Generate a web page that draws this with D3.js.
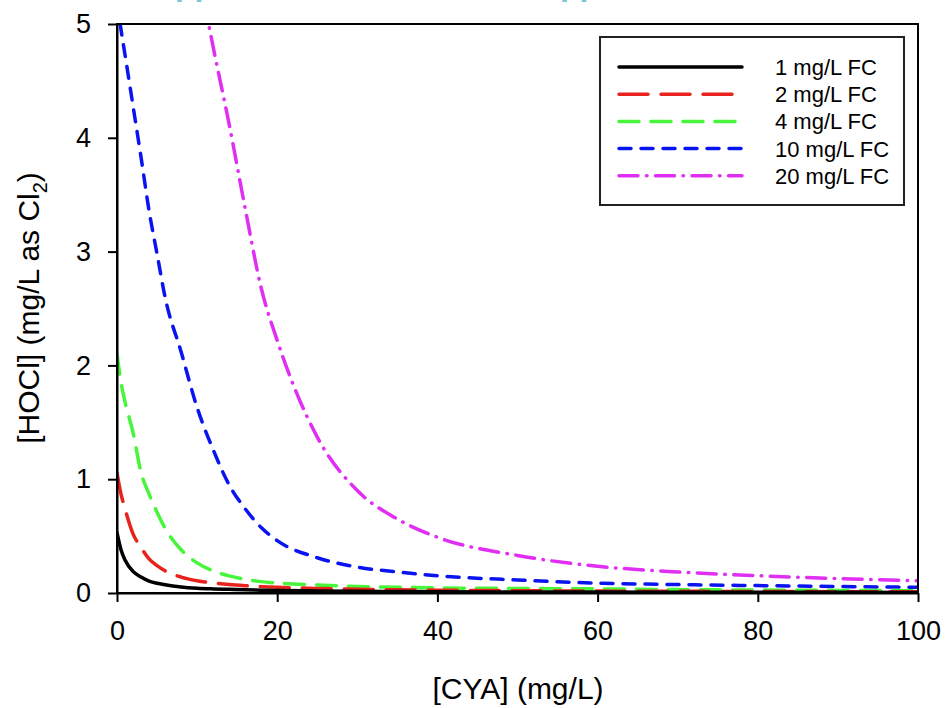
<!DOCTYPE html>
<html>
<head>
<meta charset="utf-8">
<script src="https://cdn.jsdelivr.net/npm/d3@7"></script>
<style>
  body { margin: 0; background: #fff; }
  svg { display: block; font-family: "Liberation Sans", Arial, sans-serif; }
  .axis path, .axis line { stroke: #000; stroke-width: 2px; }
  .axis text { font-size: 27px; fill: #000; }
</style>
</head>
<body>
<svg></svg>
<script>
// CYA concentration (mg/L) at which each curve was read
var cya = [0, 0.5, 1, 2, 3, 4, 5, 6, 8, 10, 12, 14, 16, 18, 20, 25, 30, 35, 40, 50, 60, 70, 80, 90, 100];

// [HOCl] (mg/L as Cl2); null = off the top of the plot
var fc1  = [0.53, 0.38, 0.29, 0.19, 0.14, 0.105, 0.085, 0.072, 0.053, 0.042, 0.036, 0.032, 0.028, 0.025, 0.022, 0.018, 0.015, 0.013, 0.011, 0.009, 0.008, 0.007, 0.006, 0.006, 0.005];
var fc2  = [1.055, 0.87, 0.74, 0.52, 0.40, 0.30, 0.24, 0.195, 0.14, 0.108, 0.088, 0.074, 0.064, 0.056, 0.05, 0.04, 0.033, 0.028, 0.025, 0.02, 0.017, 0.015, 0.013, 0.012, 0.011];
var fc4  = [2.1, 1.85, 1.68, 1.41, 1.06, 0.87, 0.71, 0.57, 0.38, 0.265, 0.195, 0.15, 0.12, 0.1, 0.088, 0.07, 0.058, 0.05, 0.045, 0.04, 0.036, 0.03, 0.026, 0.023, 0.02];
var fc10 = [5.2, 4.95, 4.73, 4.28, 3.83, 3.36, 2.98, 2.6, 2.12, 1.63, 1.26, 0.95, 0.74, 0.575, 0.46, 0.31, 0.228, 0.185, 0.152, 0.114, 0.087, 0.074, 0.065, 0.057, 0.05];
var fc20 = [null, null, null, null, null, null, null, null, null, 5.52, 4.8, 4.12, 3.38, 2.68, 2.22, 1.37, 0.9, 0.65, 0.49, 0.33, 0.235, 0.185, 0.152, 0.127, 0.107];

var seriesNames = ["1 mg/L FC", "2 mg/L FC", "4 mg/L FC", "10 mg/L FC", "20 mg/L FC"];
var xTicks = [0, 20, 40, 60, 80, 100];
var yTicks = [0, 1, 2, 3, 4, 5];

var styles = [
    {color: "#000000", dash: null},
    {color: "#e8221c", dash: "29,13"},
    {color: "#47f53a", dash: "20,12"},
    {color: "#0a14f0", dash: "12,10"},
    {color: "#e02ef2", dash: "19,8.5,0.5,8.5"}
];

var width = 946, height = 708,
    margin = {top: 24, right: 28, bottom: 115, left: 117},
    plotW = width - margin.left - margin.right,
    plotH = height - margin.top - margin.bottom;

var svg = d3.select("svg")
    .attr("width", width)
    .attr("height", height);

// cropped title above the chart (only the descenders show)
svg.append("text")
    .attr("x", 175).attr("y", -5)
    .style("font-size", "32px").style("font-weight", "bold")
    .style("fill", "#7cc4d6")
    .text("pp");
svg.append("text")
    .attr("x", 560).attr("y", -5)
    .style("font-size", "32px").style("font-weight", "bold")
    .style("fill", "#7cc4d6")
    .text("pp");

var x = d3.scaleLinear().domain([0, 100]).range([0, plotW]);
var y = d3.scaleLinear().domain([0, 5]).range([plotH, 0]);

var g = svg.append("g")
    .attr("transform", "translate(" + margin.left + "," + margin.top + ")");

g.append("clipPath").attr("id", "clip")
    .append("rect").attr("width", plotW).attr("height", plotH);

var series = [fc1, fc2, fc4, fc10, fc20].map(function(vals, i) {
    return {
        name: seriesNames[i],
        style: styles[i],
        values: cya.map(function(c, j) { return {x: c, y: vals[j]}; })
    };
});

var line = d3.line()
    .defined(function(d) { return d.y !== null; })
    .curve(d3.curveMonotoneX)
    .x(function(d) { return x(d.x); })
    .y(function(d) { return y(d.y); });

g.append("g")
    .attr("clip-path", "url(#clip)")
    .selectAll("path")
    .data(series.slice().reverse())
    .enter().append("path")
    .attr("d", function(d) { return line(d.values); })
    .attr("fill", "none")
    .attr("stroke", function(d) { return d.style.color; })
    .attr("stroke-width", 3.5)
    .attr("stroke-linecap", "round")
    .attr("stroke-dasharray", function(d) { return d.style.dash; });

// frame
g.append("rect")
    .attr("width", plotW).attr("height", plotH)
    .attr("fill", "none")
    .attr("stroke", "#000")
    .attr("stroke-width", 2);

g.append("g")
    .attr("class", "axis")
    .attr("transform", "translate(0," + plotH + ")")
    .call(d3.axisBottom(x).tickValues(xTicks).tickFormat(d3.format("d"))
        .tickSize(9).tickSizeOuter(0).tickPadding(19));

g.append("g")
    .attr("class", "axis")
    .call(d3.axisLeft(y).tickValues(yTicks).tickFormat(d3.format("d"))
        .tickSize(9).tickSizeOuter(0).tickPadding(17));

g.selectAll(".axis text").style("font-family", "'Liberation Sans', Arial, sans-serif");

// axis titles
svg.append("text")
    .attr("x", 518).attr("y", 699)
    .attr("text-anchor", "middle")
    .style("font-size", "30px")
    .text("[CYA] (mg/L)");

var yTitle = svg.append("text")
    .attr("transform", "translate(39,308) rotate(-90)")
    .attr("text-anchor", "middle")
    .style("font-size", "30px");
yTitle.append("tspan").text("[HOCl] (mg/L as Cl");
yTitle.append("tspan").attr("dy", 8).style("font-size", "20px").text("2");
yTitle.append("tspan").attr("dy", -8).text(")");

// legend
var legend = svg.append("g")
    .attr("transform", "translate(600,37)");
legend.append("rect")
    .attr("width", 304).attr("height", 168)
    .attr("fill", "#fff")
    .attr("stroke", "#222")
    .attr("stroke-width", 2);

var rows = legend.selectAll(".row")
    .data(series)
    .enter().append("g")
    .attr("class", "row")
    .attr("transform", function(d, i) { return "translate(0," + (30 + i * 27.2) + ")"; });
rows.append("line")
    .attr("x1", 19).attr("x2", 142)
    .attr("stroke", function(d) { return d.style.color; })
    .attr("stroke-width", 3.5)
    .attr("stroke-linecap", "round")
    .attr("stroke-dasharray", function(d) { return d.style.dash; });
rows.append("text")
    .attr("x", 175).attr("dy", "0.36em")
    .style("font-size", "22px")
    .text(function(d) { return d.name; });
</script>
</body>
</html>
